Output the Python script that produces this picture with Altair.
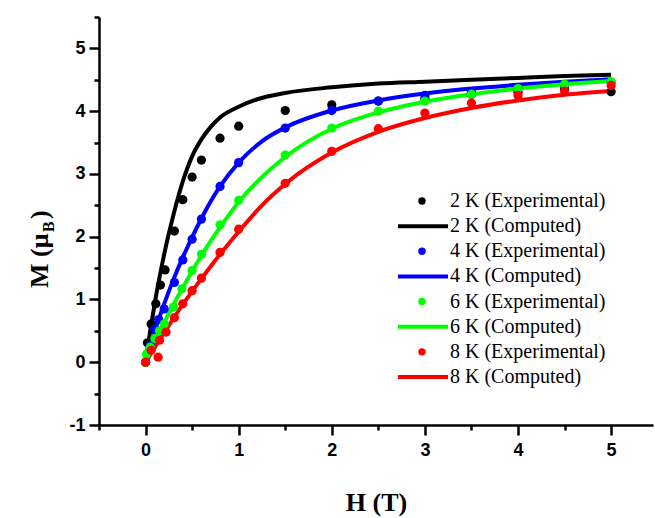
import altair as alt
import pandas as pd

series = ["2 K", "4 K", "6 K", "8 K"]
colors = ["#000000", "#0000FF", "#00FF00", "#FF0000"]

# Experimental points
H_exp_2K = [0, 0.02, 0.06, 0.11, 0.16, 0.21, 0.31, 0.4, 0.5, 0.6, 0.8, 1.0, 1.5, 2.0, 2.5, 3.0, 3.5, 4.0, 4.5, 5.0]
M_exp_2K = [0, 0.31, 0.61, 0.93, 1.23, 1.47, 2.09, 2.59, 2.95, 3.22, 3.57, 3.76, 4.01, 4.10, 4.16, 4.20, 4.27, 4.30, 4.35, 4.31]
H_exp_4K = [0, 0.05, 0.1, 0.14, 0.2, 0.31, 0.4, 0.5, 0.6, 0.8, 1.0, 1.5, 2.0, 2.5, 3.0, 3.5, 4.0, 4.5, 5.0]
M_exp_4K = [0, 0.27, 0.53, 0.68, 0.85, 1.27, 1.63, 1.96, 2.28, 2.80, 3.18, 3.73, 4.01, 4.16, 4.25, 4.30, 4.36, 4.42, 4.46]
H_exp_6K = [0, 0.01, 0.05, 0.1, 0.15, 0.2, 0.3, 0.39, 0.5, 0.6, 0.8, 1.0, 1.5, 2.0, 2.5, 3.0, 3.5, 4.0, 4.5, 5.0]
M_exp_6K = [0, 0.13, 0.24, 0.38, 0.50, 0.61, 0.88, 1.17, 1.46, 1.72, 2.19, 2.58, 3.30, 3.73, 4.00, 4.16, 4.27, 4.36, 4.43, 4.47]
H_exp_8K = [0, 0.06, 0.135, 0.15, 0.22, 0.31, 0.4, 0.5, 0.6, 0.8, 1.0, 1.5, 2.0, 2.5, 3.0, 3.5, 4.0, 4.5, 5.0]
M_exp_8K = [0, 0.19, 0.08, 0.35, 0.48, 0.71, 0.93, 1.14, 1.34, 1.75, 2.12, 2.85, 3.36, 3.72, 3.97, 4.13, 4.25, 4.32, 4.41]

# Computed curves
H_comp_2K = [0, 0.05, 0.1, 0.15, 0.2, 0.3, 0.4, 0.5, 0.6, 0.7, 0.8, 1.0, 1.2, 1.5, 2.0, 2.5, 3.0, 3.5, 4.0, 4.5, 5.0]
M_comp_2K = [0, 0.5, 0.95, 1.35, 1.72, 2.35, 2.88, 3.28, 3.55, 3.75, 3.9, 4.07, 4.19, 4.29, 4.38, 4.44, 4.47, 4.5, 4.53, 4.56, 4.58]
H_comp = [0, 0.1, 0.2, 0.3, 0.4, 0.5, 0.6, 0.8, 1.0, 1.25, 1.5, 2.0, 2.5, 3.0, 3.5, 4.0, 4.5, 5.0]
M_comp_4K = [0, 0.5, 0.93, 1.32, 1.67, 1.99, 2.29, 2.8, 3.18, 3.52, 3.74, 4.01, 4.17, 4.28, 4.36, 4.42, 4.47, 4.51]
M_comp_6K = [0, 0.33, 0.63, 0.92, 1.19, 1.45, 1.7, 2.15, 2.55, 2.95, 3.27, 3.72, 3.98, 4.15, 4.27, 4.36, 4.43, 4.48]
M_comp_8K = [0, 0.24, 0.47, 0.7, 0.92, 1.13, 1.33, 1.72, 2.08, 2.5, 2.84, 3.34, 3.67, 3.89, 4.05, 4.17, 4.26, 4.32]

x_major = [0, 1, 2, 3, 4, 5]
x_minor = [-0.5, 0.5, 1.5, 2.5, 3.5, 4.5]
y_major = [-1, 0, 1, 2, 3, 4, 5]
y_minor = [-0.5, 0.5, 1.5, 2.5, 3.5, 4.5, 5.5]

legend_labels = ["2 K (Experimental)", "2 K (Computed)", "4 K (Experimental)", "4 K (Computed)",
                 "6 K (Experimental)", "6 K (Computed)", "8 K (Experimental)", "8 K (Computed)"]
legend_kinds = ["exp", "comp"] * 4
legend_colors = [c for c in colors for _ in range(2)]

exp_rows = []
for s, H, M in zip(series, [H_exp_2K, H_exp_4K, H_exp_6K, H_exp_8K], [M_exp_2K, M_exp_4K, M_exp_6K, M_exp_8K]):
    for h, m in zip(H, M):
        exp_rows.append({"series": s, "H": h, "M": m})
df_exp = pd.DataFrame(exp_rows)

comp_rows = []
for s, H, M in zip(series, [H_comp_2K, H_comp, H_comp, H_comp], [M_comp_2K, M_comp_4K, M_comp_6K, M_comp_8K]):
    for h, m in zip(H, M):
        comp_rows.append({"series": s, "H": h, "M": m})
df_comp = pd.DataFrame(comp_rows)

df_leg = pd.DataFrame({"label": legend_labels, "kind": legend_kinds, "color": legend_colors})

xscale = alt.Scale(domain=[-0.5, 5.45], nice=False, zero=False)
yscale = alt.Scale(domain=[-1, 5.5], nice=False, zero=False)
cscale = alt.Scale(domain=series, range=colors)

common_axis = dict(grid=False, domainColor="black", tickColor="black", domainWidth=2.5, tickWidth=2.5,
                   labelColor="black", labelFont="Liberation Sans", labelFontWeight="bold", labelFontSize=18,
                   labelExpr="replace(datum.label, '\u2212', '-')")

x_axis_major = alt.Axis(values=x_major, tickSize=10, labelPadding=6, orient="bottom",
                        title="H (T)", titleFont="Liberation Serif", titleFontSize=26, titleFontWeight="bold",
                        titleColor="black", titleX=277, titleY=85, titleBaseline="alphabetic", titleAlign="center",
                        labelFlush=False, **common_axis)
y_axis_major = alt.Axis(values=y_major, tickSize=10, labelPadding=4, orient="left", title=None,
                        labelFlush=False, **common_axis)
x_axis_minor = alt.Axis(values=x_minor, tickSize=5, labels=False, domain=False, orient="bottom", title=None,
                        grid=False, tickColor="black", tickWidth=2.5)
y_axis_minor = alt.Axis(values=y_minor, tickSize=5, labels=False, domain=False, orient="left", title=None,
                        grid=False, tickColor="black", tickWidth=2.5)

lines = alt.Chart(df_comp).mark_line(strokeWidth=4, interpolate="monotone").encode(
    x=alt.X("H:Q", scale=xscale, axis=x_axis_major),
    y=alt.Y("M:Q", scale=yscale, axis=y_axis_major),
    color=alt.Color("series:N", scale=cscale, legend=None),
)
points = alt.Chart(df_exp).mark_circle(size=85, opacity=1).encode(
    x=alt.X("H:Q", scale=xscale, axis=x_axis_minor),
    y=alt.Y("M:Q", scale=yscale, axis=y_axis_minor),
    color=alt.Color("series:N", scale=cscale, legend=None),
)
data_layer = alt.layer(lines, points).resolve_axis(x="independent", y="independent")

leg_y = alt.Y("label:N", scale=alt.Scale(type="point", domain=legend_labels, range=[184, 360], padding=0), axis=None)
leg_rules = alt.Chart(df_leg).transform_filter(alt.datum.kind == "comp").mark_rule(strokeWidth=4).encode(
    x=alt.value(299), x2=alt.value(349), y=leg_y, color=alt.Color("color:N", scale=None))
leg_pts = alt.Chart(df_leg).transform_filter(alt.datum.kind == "exp").mark_circle(size=55, opacity=1).encode(
    x=alt.value(323), y=leg_y, color=alt.Color("color:N", scale=None))
leg_txt = alt.Chart(df_leg).mark_text(align="left", baseline="middle", font="Liberation Serif",
                                      fontSize=20, color="black").encode(
    x=alt.value(351), y=leg_y, text="label:N")
legend_layer = alt.layer(leg_rules, leg_pts, leg_txt)

title_df = pd.DataFrame({"a": ["M (μ"], "b": ["B"], "c": [")"]})
t1 = alt.Chart(title_df).mark_text(angle=270, align="left", baseline="alphabetic", font="Liberation Serif",
                                   fontSize=26, fontWeight="bold", color="black").encode(
    x=alt.value(-51), y=alt.value(271), text="a:N")
t2 = alt.Chart(title_df).mark_text(angle=270, align="left", baseline="alphabetic", font="Liberation Serif",
                                   fontSize=16, fontWeight="bold", color="black").encode(
    x=alt.value(-45), y=alt.value(215), text="b:N")
t3 = alt.Chart(title_df).mark_text(angle=270, align="left", baseline="alphabetic", font="Liberation Serif",
                                   fontSize=26, fontWeight="bold", color="black").encode(
    x=alt.value(-51), y=alt.value(202), text="c:N")
title_layer = alt.layer(t1, t2, t3)

chart = alt.layer(data_layer, legend_layer, title_layer).resolve_scale(
    x="independent", y="independent", color="independent"
).properties(
    width=554, height=408,
    autosize=alt.AutoSizeParams(type="none"),
    padding={"left": 99, "top": 17, "right": 2, "bottom": 93},
    background="white",
).configure_view(stroke=None)

chart.save("out.html", embed_options={"renderer": "svg", "actions": False})
